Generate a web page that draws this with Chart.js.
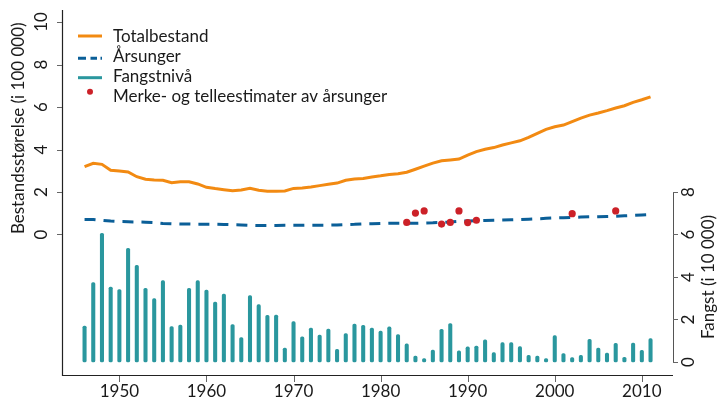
<!DOCTYPE html>
<html>
<head>
<meta charset="utf-8">
<script src="https://cdn.jsdelivr.net/npm/chart.js@4.4.1/dist/chart.umd.min.js"></script>
<style>
html,body{margin:0;padding:0;background:#fff;}
#wrap{width:719px;height:403px;position:relative;}
</style>
</head>
<body>
<div id="wrap"><canvas id="c" width="719" height="403"></canvas></div>
<script>
const years = [1946,1947,1948,1949,1950,1951,1952,1953,1954,1955,1956,1957,1958,1959,1960,1961,1962,1963,1964,1965,1966,1967,1968,1969,1970,1971,1972,1973,1974,1975,1976,1977,1978,1979,1980,1981,1982,1983,1984,1985,1986,1987,1988,1989,1990,1991,1992,1993,1994,1995,1996,1997,1998,1999,2000,2001,2002,2003,2004,2005,2006,2007,2008,2009,2010,2011];
// Totalbestand (i 100 000)
const totalbestand = [3.19,3.35,3.30,3.02,2.99,2.94,2.72,2.60,2.56,2.55,2.44,2.48,2.48,2.38,2.22,2.16,2.11,2.06,2.09,2.17,2.08,2.03,2.03,2.05,2.17,2.19,2.24,2.30,2.36,2.42,2.55,2.61,2.64,2.71,2.76,2.82,2.86,2.93,3.07,3.22,3.36,3.47,3.51,3.55,3.74,3.90,4.01,4.09,4.21,4.31,4.41,4.57,4.76,4.95,5.07,5.15,5.31,5.48,5.62,5.72,5.83,5.95,6.06,6.22,6.34,6.48];
// Årsunger (i 100 000)
const arsunger = [0.71,0.71,0.67,0.63,0.61,0.60,0.59,0.58,0.56,0.52,0.50,0.49,0.49,0.48,0.48,0.48,0.47,0.46,0.45,0.43,0.42,0.42,0.42,0.43,0.43,0.43,0.44,0.44,0.44,0.45,0.47,0.48,0.50,0.51,0.52,0.53,0.53,0.53,0.53,0.54,0.55,0.57,0.59,0.62,0.64,0.65,0.66,0.67,0.68,0.69,0.70,0.72,0.74,0.76,0.78,0.79,0.80,0.82,0.83,0.84,0.85,0.86,0.88,0.90,0.92,0.94];
// Fangstnivå (i 10 000)
const fangst = [1.69,3.74,6.06,3.53,3.41,5.35,4.55,3.47,2.98,3.83,1.67,1.74,3.47,3.83,3.39,2.82,3.20,1.76,1.15,3.12,2.70,2.20,2.21,0.66,1.90,1.19,1.60,1.27,1.55,0.60,1.34,1.79,1.73,1.60,1.45,1.65,1.29,0.85,0.28,0.16,0.56,1.54,1.81,0.52,0.71,0.75,1.04,0.44,0.91,0.91,0.72,0.31,0.28,0.16,1.24,0.40,0.21,0.31,1.07,0.66,0.42,0.88,0.22,0.89,0.55,1.10];
// Merke- og telleestimater av årsunger (i 100 000)
const merkeYears = [1983,1984,1985,1987,1988,1989,1990,1991,2002,2007];
const merkeValues = [0.57,1.01,1.11,0.49,0.57,1.11,0.56,0.67,0.98,1.11];
// Tick labels
const xTicks = [1950,1960,1970,1980,1990,2000,2010];
const leftTicks = [0,2,4,6,8,10];
const rightTicks = [0,2,4,6,8];
const labels = ["Totalbestand","Årsunger","Fangstnivå","Merke- og telleestimater av årsunger"];
const leftTitle = "Bestandsstørelse (i 100 000)";
const rightTitle = "Fangst (i 10 000)";

const ORANGE = "#F28A12";
const BLUE = "#0B5F98";
const TEAL = "#2A979E";
const RED = "#CC2128";
const FONT = "Lato, 'Open Sans', sans-serif";

const pts = (xs, ys) => xs.map((x, i) => ({x: x, y: ys[i]}));

const axesPlugin = {
  id: 'axesPlugin',
  afterDraw(chart) {
    const ctx = chart.ctx;
    const xs = chart.scales.x, yl = chart.scales.y, yr = chart.scales.y2;
    const ca = chart.chartArea;
    ctx.save();
    // axis lines
    ctx.strokeStyle = "#222";
    ctx.lineWidth = 1.2;
    ctx.beginPath();
    ctx.moveTo(ca.left + 0.5, ca.top);
    ctx.lineTo(ca.left + 0.5, ca.bottom + 0.5);
    ctx.lineTo(ca.right, ca.bottom + 0.5);
    ctx.stroke();
    const r0 = yr.getPixelForValue(rightTicks[0]);
    const r1 = yr.getPixelForValue(rightTicks[rightTicks.length - 1]);
    ctx.strokeStyle = "#555";
    ctx.lineWidth = 1;
    ctx.beginPath();
    ctx.moveTo(ca.right + 0.5, r0);
    ctx.lineTo(ca.right + 0.5, r1);
    ctx.stroke();
    // ticks
    ctx.strokeStyle = "#666";
    ctx.beginPath();
    leftTicks.forEach(v => { const p = Math.round(yl.getPixelForValue(v)) + 0.5; ctx.moveTo(ca.left - 5, p); ctx.lineTo(ca.left, p); });
    rightTicks.forEach(v => { const p = Math.round(yr.getPixelForValue(v)) + 0.5; ctx.moveTo(ca.right, p); ctx.lineTo(ca.right + 5, p); });
    xTicks.forEach(v => { const p = Math.round(xs.getPixelForValue(v)) + 0.5; ctx.moveTo(p, ca.bottom + 1); ctx.lineTo(p, ca.bottom + 7); });
    ctx.stroke();
    // labels
    ctx.fillStyle = "#1a1a1a";
    ctx.font = "17px " + FONT;
    ctx.textAlign = "center";
    ctx.textBaseline = "middle";
    xTicks.forEach(v => ctx.fillText(String(v), xs.getPixelForValue(v), ca.bottom + 17));
    leftTicks.forEach(v => {
      ctx.save(); ctx.translate(41.5, yl.getPixelForValue(v)); ctx.rotate(-Math.PI / 2);
      ctx.fillText(String(v), 0, 0); ctx.restore();
    });
    rightTicks.forEach(v => {
      ctx.save(); ctx.translate(688.5, yr.getPixelForValue(v)); ctx.rotate(-Math.PI / 2);
      ctx.fillText(String(v), 0, 0); ctx.restore();
    });
    // titles
    const lc = (yl.getPixelForValue(leftTicks[0]) + yl.getPixelForValue(leftTicks[leftTicks.length - 1])) / 2;
    ctx.save(); ctx.translate(19, lc); ctx.rotate(-Math.PI / 2); ctx.fillText(leftTitle, 0, 0); ctx.restore();
    const rc = (r0 + r1) / 2;
    ctx.save(); ctx.translate(709, rc); ctx.rotate(-Math.PI / 2); ctx.fillText(rightTitle, 0, 0); ctx.restore();
    // legend
    const ds = chart.data.datasets;
    const lx0 = 78, lx1 = 102, tx = 113;
    const rows = [36, 58.3, 77.7, 91.7];
    ctx.lineCap = "butt";
    ctx.lineWidth = 3;
    ctx.strokeStyle = ds[0].borderColor;
    ctx.beginPath(); ctx.moveTo(lx0, rows[0]); ctx.lineTo(lx1, rows[0]); ctx.stroke();
    ctx.strokeStyle = ds[1].borderColor;
    ctx.setLineDash([8, 4.5, 6.5, 3.5, 2, 100]);
    ctx.beginPath(); ctx.moveTo(lx0, rows[1]); ctx.lineTo(lx1, rows[1]); ctx.stroke();
    ctx.setLineDash([]);
    ctx.strokeStyle = ds[2].backgroundColor;
    ctx.beginPath(); ctx.moveTo(lx0, rows[2]); ctx.lineTo(lx1, rows[2]); ctx.stroke();
    ctx.fillStyle = ds[3].pointBackgroundColor;
    ctx.beginPath(); ctx.arc(90, rows[3], 3, 0, Math.PI * 2); ctx.fill();
    ctx.fillStyle = "#1a1a1a";
    ctx.textAlign = "left";
    ctx.textBaseline = "alphabetic";
    ds.forEach((d, i) => ctx.fillText(d.label, tx, 41.8 + 20.2 * i));
    ctx.restore();
  }
};

new Chart(document.getElementById('c'), {
  data: {
    datasets: [
      { type: 'line', label: labels[0], data: pts(years, totalbestand), borderColor: ORANGE, borderWidth: 3, pointRadius: 0, tension: 0, yAxisID: 'y', order: 2 },
      { type: 'line', label: labels[1], data: pts(years, arsunger), borderColor: BLUE, borderWidth: 3, borderDash: [11, 8], pointRadius: 0, tension: 0, yAxisID: 'y', order: 3 },
      { type: 'bar', label: labels[2], data: pts(years, fangst), backgroundColor: TEAL, barThickness: 3.4, borderRadius: 1.6, borderSkipped: false, yAxisID: 'y2', order: 4 },
      { type: 'scatter', label: labels[3], data: pts(merkeYears, merkeValues), showLine: false, pointRadius: 3.6, pointBackgroundColor: RED, pointBorderWidth: 0, borderColor: RED, yAxisID: 'y', order: 1 }
    ]
  },
  options: {
    responsive: false,
    animation: false,
    devicePixelRatio: 1,
    layout: { padding: { left: 62, top: 10, right: 46, bottom: 28 } },
    plugins: { legend: { display: false }, tooltip: { enabled: false } },
    scales: {
      x: { type: 'linear', min: 1943.41, max: 2013.58, offset: false, display: false },
      y: { type: 'linear', min: -6.612, max: 10.565, display: false },
      y2: { type: 'linear', min: -0.612, max: 16.565, display: false, position: 'right' }
    }
  },
  plugins: [axesPlugin]
});
</script>
</body>
</html>
